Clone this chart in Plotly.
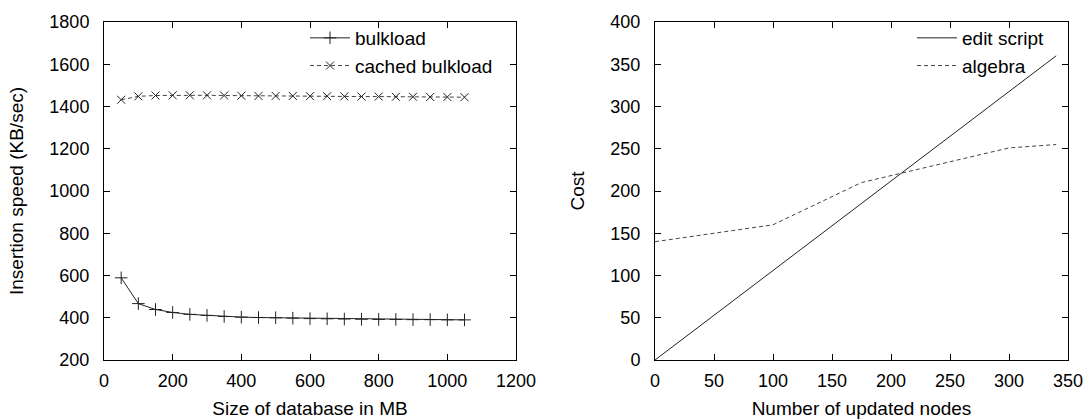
import plotly.graph_objects as go

# ---- data ----
db_size_mb = [50, 100, 150, 200, 250, 300, 350, 400, 450, 500, 550, 600,
              650, 700, 750, 800, 850, 900, 950, 1000, 1050]
bulkload = [589, 467, 439, 425, 416, 411, 406, 403, 401, 400, 398, 396,
            395, 394, 393, 392, 392, 391, 391, 390, 390]
cached_bulkload = [1432, 1448, 1452, 1453, 1453, 1453, 1452, 1451, 1450, 1450,
                   1450, 1449, 1449, 1448, 1447, 1447, 1446, 1446, 1445, 1445, 1444]

edit_nodes = [0, 340]
edit_script = [0, 360]
algebra_nodes = [0, 100, 175, 250, 300, 340]
algebra_cost = [140, 160, 210, 235, 251, 255]

left_xticks = [0, 200, 400, 600, 800, 1000, 1200]
left_yticks = [200, 400, 600, 800, 1000, 1200, 1400, 1600, 1800]
right_xticks = [0, 50, 100, 150, 200, 250, 300, 350]
right_yticks = [0, 50, 100, 150, 200, 250, 300, 350, 400]

FONT = "Liberation Sans, Arial, sans-serif"
W, H = 1089, 419

fig = go.Figure()

fig.add_trace(go.Scatter(
    x=db_size_mb, y=bulkload, name="bulkload", mode="lines+markers",
    line=dict(color="#222222", width=1),
    marker=dict(symbol="cross-thin", size=9, color="#222222",
                line=dict(color="#222222", width=1)),
    xaxis="x", yaxis="y", legend="legend"))
fig.add_trace(go.Scatter(
    x=db_size_mb, y=cached_bulkload, name="cached bulkload", mode="lines+markers",
    line=dict(color="#444444", width=1, dash="4px,3px"),
    marker=dict(symbol="x-thin", size=8, color="#222222",
                line=dict(color="#222222", width=1)),
    xaxis="x", yaxis="y", legend="legend"))

fig.add_trace(go.Scatter(
    x=edit_nodes, y=edit_script, name="edit script", mode="lines",
    line=dict(color="#222222", width=1),
    xaxis="x2", yaxis="y2", legend="legend2"))
fig.add_trace(go.Scatter(
    x=algebra_nodes, y=algebra_cost, name="algebra", mode="lines",
    line=dict(color="#444444", width=1, dash="4px,3px"),
    xaxis="x2", yaxis="y2", legend="legend2"))

x1 = [104 / W, 516 / W]
x2 = [655 / W, 1068 / W]
yd = [(H - 360) / H, (H - 22) / H]

common_axis = dict(
    showline=True, linecolor="#000000", linewidth=1, mirror="ticks",
    ticks="inside", ticklen=6, tickwidth=1, tickcolor="#000000",
    showgrid=False, zeroline=False, automargin=False,
    tickfont=dict(family=FONT, size=18, color="#000000"),
)

fig.update_layout(
    width=W, height=H,
    margin=dict(l=0, r=0, t=0, b=0),
    paper_bgcolor="white", plot_bgcolor="white",
    font=dict(family=FONT, color="#000000"),
    xaxis=dict(domain=x1, anchor="y", range=[0, 1200], tickvals=left_xticks,
               ticklabelstandoff=4,
               title=dict(text="Size of database in MB", standoff=13,
                          font=dict(family=FONT, size=19)),
               **common_axis),
    yaxis=dict(domain=yd, anchor="x", range=[200, 1800], tickvals=left_yticks,
               ticklabelstandoff=10,
               title=dict(text="Insertion speed (KB/sec)", standoff=20,
                          font=dict(family=FONT, size=19)),
               **common_axis),
    xaxis2=dict(domain=x2, anchor="y2", range=[0, 350], tickvals=right_xticks,
                ticklabelstandoff=4,
                title=dict(text="Number of updated nodes", standoff=13,
                           font=dict(family=FONT, size=19)),
                **common_axis),
    yaxis2=dict(domain=yd, anchor="x2", range=[0, 400], tickvals=right_yticks,
                ticklabelstandoff=10,
                title=dict(text="Cost", standoff=20,
                           font=dict(family=FONT, size=19)),
                **common_axis),
    legend=dict(x=498 / W, y=(H - 19) / H, xanchor="right", yanchor="top",
                bgcolor="rgba(0,0,0,0)", borderwidth=0,
                font=dict(family=FONT, size=19), tracegroupgap=0,
                itemwidth=40),
    legend2=dict(x=1050 / W, y=(H - 19) / H, xanchor="right", yanchor="top",
                 bgcolor="rgba(0,0,0,0)", borderwidth=0,
                 font=dict(family=FONT, size=19), tracegroupgap=0,
                 itemwidth=40),
)

fig.write_html(
    "out.html",
    config={"displayModeBar": False},
    post_script="document.body.style.margin='0';document.body.style.padding='0';",
)
